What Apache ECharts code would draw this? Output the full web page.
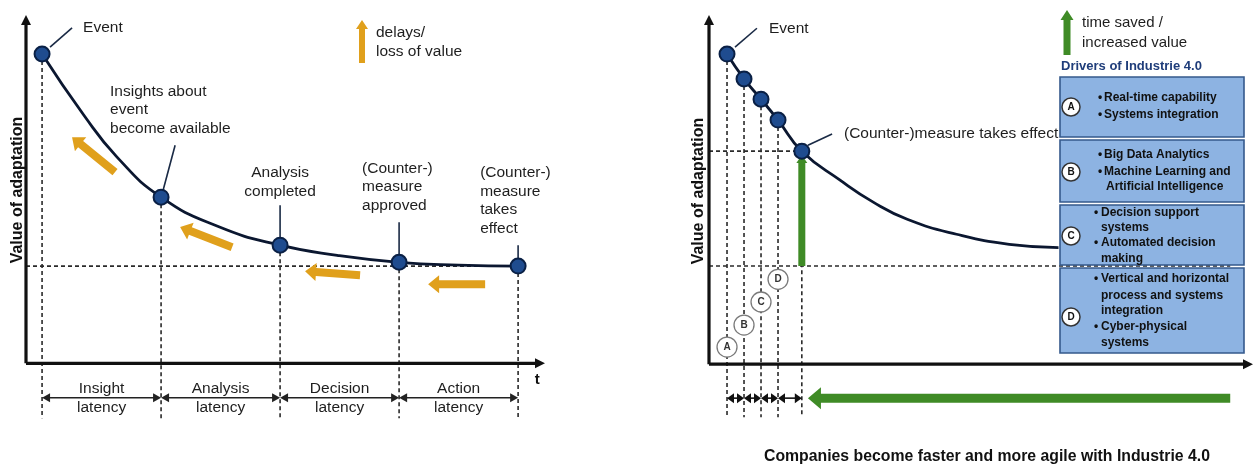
<!DOCTYPE html>
<html><head><meta charset="utf-8">
<script src="https://cdn.jsdelivr.net/npm/echarts@6/dist/echarts.min.js"></script>
<style>html,body{margin:0;padding:0;background:#fff}#c{width:1257px;height:466px}</style>
</head><body><div id="c"></div>
<script>
// ---------------- data ----------------
const leftEvents = ['Event', 'Insights about\nevent\nbecome available', 'Analysis\ncompleted', '(Counter-)\nmeasure\napproved', '(Counter-)\nmeasure\ntakes\neffect'];
const leftEventTime = [0, 1, 2, 3, 4];
const leftEventValue = [88.8, 47.7, 33.9, 29.0, 27.9];
const leftCurveTime = [0, 0.35, 0.63, 1, 1.47, 2, 2.48, 3, 3.5, 4];
const leftCurveValue = [88.8, 71.3, 59.2, 47.7, 39.4, 33.9, 31.0, 29.0, 28.2, 27.9];
const leftBaseline = 27.9;
const latencyNames = ['Insight\nlatency', 'Analysis\nlatency', 'Decision\nlatency', 'Action\nlatency'];

const rightEvents = ['Event', '', '', '', '(Counter-)measure takes effect'];
const rightEventTime = [0, 1, 2, 3, 4.4];
const rightEventValue = [88.8, 81.7, 75.9, 69.9, 61.0];
const rightCurveTime = [0, 1, 2, 3, 4.4, 6.65, 8.6, 10.6, 13.5, 16.6, 19.5];
const rightCurveValue = [88.8, 81.7, 75.9, 69.9, 61.0, 52.7, 46.4, 41.5, 37.2, 34.3, 33.4];
const rightBaseline = 28.1;
const driverLetters = ['A', 'B', 'C', 'D'];
const driverItems = [
  [['Real-time capability'], ['Systems integration']],
  [['Big Data Analytics'], ['Machine Learning and', 'Artificial Intelligence']],
  [['Decision support', 'systems'], ['Automated decision', 'making']],
  [['Vertical and horizontal', 'process and systems', 'integration'], ['Cyber-physical', 'systems']]
];

// ---------------- layout / annotation placement ----------------
const LX = {min: -0.135, max: 4.226}, LY = {min: -16, max: 100};
const RX = {min: -1.06, max: 30.94}, RY = {min: -16, max: 100};
const FF = '"Liberation Sans", Arial, sans-serif';
const FONT = '15.5px ' + FF;
const INK = '#1e1e1e';
const ORANGE = '#e0a01c';
const GREEN = '#3f8b26';
const DASH = {stroke: '#2a2a2a', lineWidth: 1.6, lineDash: [4, 3]};
const LEAD = {stroke: '#1a2a45', lineWidth: 1.6};

const leftLabelAt = [[0.345, 96.3, 'left'], [0.571, 72.7, 'left'], [2, 52.0, 'center'], [2.689, 50.6, 'left'], [3.681, 46.7, 'left']];
const leftLeaders = [[[0.067, 90.8], [0.252, 96.3]], [[1.017, 49.7], [1.118, 62.6]], [[2, 35.3], [2, 45.4]], [[3, 31.0], [3, 40.5]], [[4, 29.9], [4, 33.9]]];
const leftDelayArrows = [[[0.613, 54.9], [0.252, 64.9]], [[1.597, 33.3], [1.160, 39.1]], [[2.672, 25.3], [2.210, 26.4]], [[3.723, 22.7], [3.244, 22.7]]];
const rightLabelAt = [[2.47, 96.2], [6.88, 65.9]];
const rightLeaders = [[[0.47, 90.8], [1.76, 96.2]], [[4.76, 62.7], [6.18, 65.9]]];
const rightCircleValue = [4.9, 11.2, 17.8, 24.3];

// ---------------- drawing helpers ----------------
function seg(p0, p1, style) {
  return {type: 'line', shape: {x1: p0[0], y1: p0[1], x2: p1[0], y2: p1[1]}, style: Object.assign({}, style)};
}
function unit(p0, p1) {
  const dx = p1[0] - p0[0], dy = p1[1] - p0[1], l = Math.hypot(dx, dy) || 1;
  return [dx / l, dy / l];
}
function head(tip, from, len, half, fill) {
  const u = unit(from, tip), n = [-u[1], u[0]];
  const b = [tip[0] - u[0] * len, tip[1] - u[1] * len];
  return {type: 'polygon', shape: {points: [tip, [b[0] + n[0] * half, b[1] + n[1] * half], [b[0] - n[0] * half, b[1] - n[1] * half]]}, style: {fill: fill}};
}
function blockArrow(tail, tip, shaft, headL, headW, fill, z) {
  const u = unit(tail, tip), n = [-u[1], u[0]];
  const b = [tip[0] - u[0] * headL, tip[1] - u[1] * headL];
  const s = shaft / 2, h = headW / 2;
  const pts = [
    [tail[0] + n[0] * s, tail[1] + n[1] * s], [b[0] + n[0] * s, b[1] + n[1] * s], [b[0] + n[0] * h, b[1] + n[1] * h], tip,
    [b[0] - n[0] * h, b[1] - n[1] * h], [b[0] - n[0] * s, b[1] - n[1] * s], [tail[0] - n[0] * s, tail[1] - n[1] * s]
  ];
  const el = {type: 'polygon', shape: {points: pts}, style: {fill: fill}};
  if (z != null) el.z = z;
  return el;
}
function dblArrow(g, p0, p1, hl, hw, color) {
  const u = unit(p0, p1);
  g.push(seg([p0[0] + u[0] * hl * 0.8, p0[1] + u[1] * hl * 0.8], [p1[0] - u[0] * hl * 0.8, p1[1] - u[1] * hl * 0.8], {stroke: color, lineWidth: 1.6}));
  g.push(head(p0, p1, hl, hw, color));
  g.push(head(p1, p0, hl, hw, color));
}
function axisArrow(g, p0, p1) {
  const u = unit(p0, p1);
  g.push(seg(p0, [p1[0] - u[0] * 6, p1[1] - u[1] * 6], {stroke: '#111', lineWidth: 3.2}));
  g.push(head(p1, p0, 10, 5, '#111'));
}
function txt(p, text, align, va, font, fill, lh) {
  return {type: 'text', x: p[0], y: p[1], style: {text: text, font: font || FONT, fill: fill || INK, align: align, verticalAlign: va, lineHeight: lh || 18.5}};
}

// ---------------- left panel annotations ----------------
function renderLeft(params, api) {
  const c = p => api.coord(p);
  const g = [];
  g.push(seg(c([LX.min, leftBaseline]), c([leftEventTime[4], leftBaseline]), DASH));
  leftEventTime.forEach((t, i) => g.push(seg(c([t, leftEventValue[i]]), c([t, -15.8]), DASH)));
  axisArrow(g, c([LX.min, 0]), c([LX.max, 0]));
  axisArrow(g, c([LX.min, 0]), c([LX.min, LY.max]));
  leftLeaders.forEach(l => g.push(seg(c(l[0]), c(l[1]), LEAD)));
  leftEvents.forEach((name, i) => g.push(txt(c([leftLabelAt[i][0], leftLabelAt[i][1]]), name, leftLabelAt[i][2], 'middle')));
  leftDelayArrows.forEach(a => g.push(blockArrow(c(a[0]), c(a[1]), 8, 11, 18, ORANGE)));
  const ly = -9.9;
  for (let i = 0; i < 4; i++) {
    dblArrow(g, c([leftEventTime[i], ly]), c([leftEventTime[i + 1], ly]), 8, 4.5, '#222');
    g.push(txt(c([(leftEventTime[i] + leftEventTime[i + 1]) / 2, ly]), latencyNames[i], 'center', 'middle', null, null, 19));
  }
  g.push(txt(c([4.16, -4.9]), 't', 'center', 'middle', 'bold 15px ' + FF, '#111'));
  return {type: 'group', children: g};
}

// ---------------- right panel annotations ----------------
function renderRight(params, api) {
  const c = p => api.coord(p);
  const g = [];
  const tE = rightEventTime[4], vE = rightEventValue[4];
  g.push(seg(c([RX.min, vE]), c([tE, vE]), DASH));
  g.push(seg(c([RX.min, rightBaseline]), c([29.6, rightBaseline]), DASH));
  rightEventTime.forEach((t, i) => g.push(seg(c([t, rightEventValue[i]]), c([t, -15.2]), DASH)));
  axisArrow(g, c([RX.min, 0]), c([RX.max, 0]));
  axisArrow(g, c([RX.min, 0]), c([RX.min, RY.max]));
  rightLeaders.forEach(l => g.push(seg(c(l[0]), c(l[1]), LEAD)));
  g.push(txt(c(rightLabelAt[0]), rightEvents[0], 'left', 'middle'));
  g.push(txt(c(rightLabelAt[1]), rightEvents[4], 'left', 'middle'));
  driverLetters.forEach((L, i) => {
    const p = c([rightEventTime[i], rightCircleValue[i]]);
    g.push({type: 'circle', shape: {cx: p[0], cy: p[1], r: 10}, style: {fill: '#fff', stroke: '#7a7a7a', lineWidth: 1.3}});
    g.push(txt(p, L, 'center', 'middle', 'bold 10px ' + FF, '#333'));
  });
  g.push(blockArrow(c([tE, rightBaseline]), c([tE, 59.9]), 7, 8, 11, GREEN));
  const by = -9.74;
  for (let i = 0; i < 4; i++) dblArrow(g, c([rightEventTime[i], by]), c([rightEventTime[i + 1], by]), 7, 5, '#111');
  g.push(blockArrow(c([29.6, by]), c([4.76, by]), 9, 13, 22, GREEN));
  return {type: 'group', children: g};
}

// ---------------- side panel (legend + drivers) ----------------
const graphics = [];
graphics.push({type: 'text', x: 17.5, y: 190, rotation: Math.PI / 2, z: 100, style: {text: 'Value of adaptation', font: 'bold 16px ' + FF, fill: '#111', align: 'center', verticalAlign: 'middle'}});
graphics.push({type: 'text', x: 699, y: 191, rotation: Math.PI / 2, z: 100, style: {text: 'Value of adaptation', font: 'bold 16px ' + FF, fill: '#111', align: 'center', verticalAlign: 'middle'}});
graphics.push(blockArrow([362, 63], [362, 20], 6, 9, 12, ORANGE, 100));
graphics.push({type: 'text', x: 376, y: 42.5, z: 100, style: {text: 'delays/\nloss of value', font: FONT, fill: INK, align: 'left', verticalAlign: 'middle', lineHeight: 19}});
graphics.push(blockArrow([1067, 55], [1067, 10], 7, 10, 13, GREEN, 100));
graphics.push({type: 'text', x: 1082, y: 33, z: 100, style: {text: 'time saved /\nincreased value', font: '15px ' + FF, fill: INK, align: 'left', verticalAlign: 'middle', lineHeight: 20}});
graphics.push({type: 'text', x: 1061, y: 66, z: 100, style: {text: 'Drivers of Industrie 4.0', font: 'bold 13px ' + FF, fill: '#1f3d7a', align: 'left', verticalAlign: 'middle'}});
graphics.push({type: 'text', x: 764, y: 457, z: 100, style: {text: 'Companies become faster and more agile with Industrie 4.0', font: 'bold 15.8px ' + FF, fill: '#111', align: 'left', verticalAlign: 'middle'}});

const boxes = [
  {y: 77, h: 60, cy: 107, lines: [98, 115], bx: 1099, tx: 1104},
  {y: 140, h: 62, cy: 172, lines: [155, 172, 187], bx: 1099, tx: 1104},
  {y: 205, h: 60, cy: 236, lines: [213, 228, 243, 259], bx: 1095, tx: 1101},
  {y: 268, h: 85, cy: 317, lines: [279, 296, 311, 327, 343], bx: 1095, tx: 1101}
];
boxes.forEach((b, i) => {
  graphics.push({type: 'rect', z: 100, shape: {x: 1060, y: b.y, width: 184, height: b.h}, style: {fill: '#8db3e2', stroke: '#35598c', lineWidth: 1.6}});
  graphics.push({type: 'circle', z: 101, shape: {cx: 1071, cy: b.cy, r: 9}, style: {fill: '#fff', stroke: '#333', lineWidth: 1.5}});
  graphics.push({type: 'text', z: 102, x: 1071, y: b.cy, style: {text: driverLetters[i], font: 'bold 10px ' + FF, fill: '#111', align: 'center', verticalAlign: 'middle'}});
  let k = 0;
  driverItems[i].forEach(item => {
    item.forEach((line, j) => {
      const y = b.lines[k++];
      if (j === 0) graphics.push({type: 'text', z: 102, x: b.bx - 1, y: y, style: {text: '•', font: 'bold 12px ' + FF, fill: '#111', align: 'left', verticalAlign: 'middle'}});
      graphics.push({type: 'text', z: 102, x: b.tx + (j > 0 && i < 2 ? 2 : 0), y: y, style: {text: line, font: 'bold 12px ' + FF, fill: '#111', align: 'left', verticalAlign: 'middle'}});
    });
  });
});

// ---------------- chart ----------------
const chart = echarts.init(document.getElementById('c'), null, {renderer: 'canvas'});
chart.setOption({
  animation: false,
  backgroundColor: '#fff',
  grid: [
    {left: 26, top: 15, width: 519, height: 404},
    {left: 709, top: 15, width: 544, height: 405}
  ],
  xAxis: [
    {gridIndex: 0, type: 'value', min: LX.min, max: LX.max, show: false},
    {gridIndex: 1, type: 'value', min: RX.min, max: RX.max, show: false}
  ],
  yAxis: [
    {gridIndex: 0, type: 'value', min: LY.min, max: LY.max, show: false},
    {gridIndex: 1, type: 'value', min: RY.min, max: RY.max, show: false}
  ],
  graphic: graphics,
  series: [
    {type: 'custom', xAxisIndex: 0, yAxisIndex: 0, data: [[0, 0]], renderItem: renderLeft, z: 1, silent: true, clip: false},
    {type: 'line', xAxisIndex: 0, yAxisIndex: 0, data: leftCurveTime.map((t, i) => [t, leftCurveValue[i]]), smooth: 0.5, showSymbol: false, lineStyle: {color: '#0b1730', width: 2.8}, z: 3, silent: true},
    {type: 'scatter', xAxisIndex: 0, yAxisIndex: 0, data: leftEventTime.map((t, i) => [t, leftEventValue[i]]), symbolSize: 15, itemStyle: {color: '#1f4c8f', borderColor: '#0a2045', borderWidth: 2, opacity: 1}, z: 4, silent: true},
    {type: 'custom', xAxisIndex: 1, yAxisIndex: 1, data: [[0, 0]], renderItem: renderRight, z: 1, silent: true, clip: false},
    {type: 'line', xAxisIndex: 1, yAxisIndex: 1, data: rightCurveTime.map((t, i) => [t, rightCurveValue[i]]), smooth: 0.5, showSymbol: false, lineStyle: {color: '#0b1730', width: 2.8}, z: 3, silent: true},
    {type: 'scatter', xAxisIndex: 1, yAxisIndex: 1, data: rightEventTime.map((t, i) => [t, rightEventValue[i]]), symbolSize: 15, itemStyle: {color: '#1f4c8f', borderColor: '#0a2045', borderWidth: 2, opacity: 1}, z: 4, silent: true}
  ]
});
</script></body></html>
